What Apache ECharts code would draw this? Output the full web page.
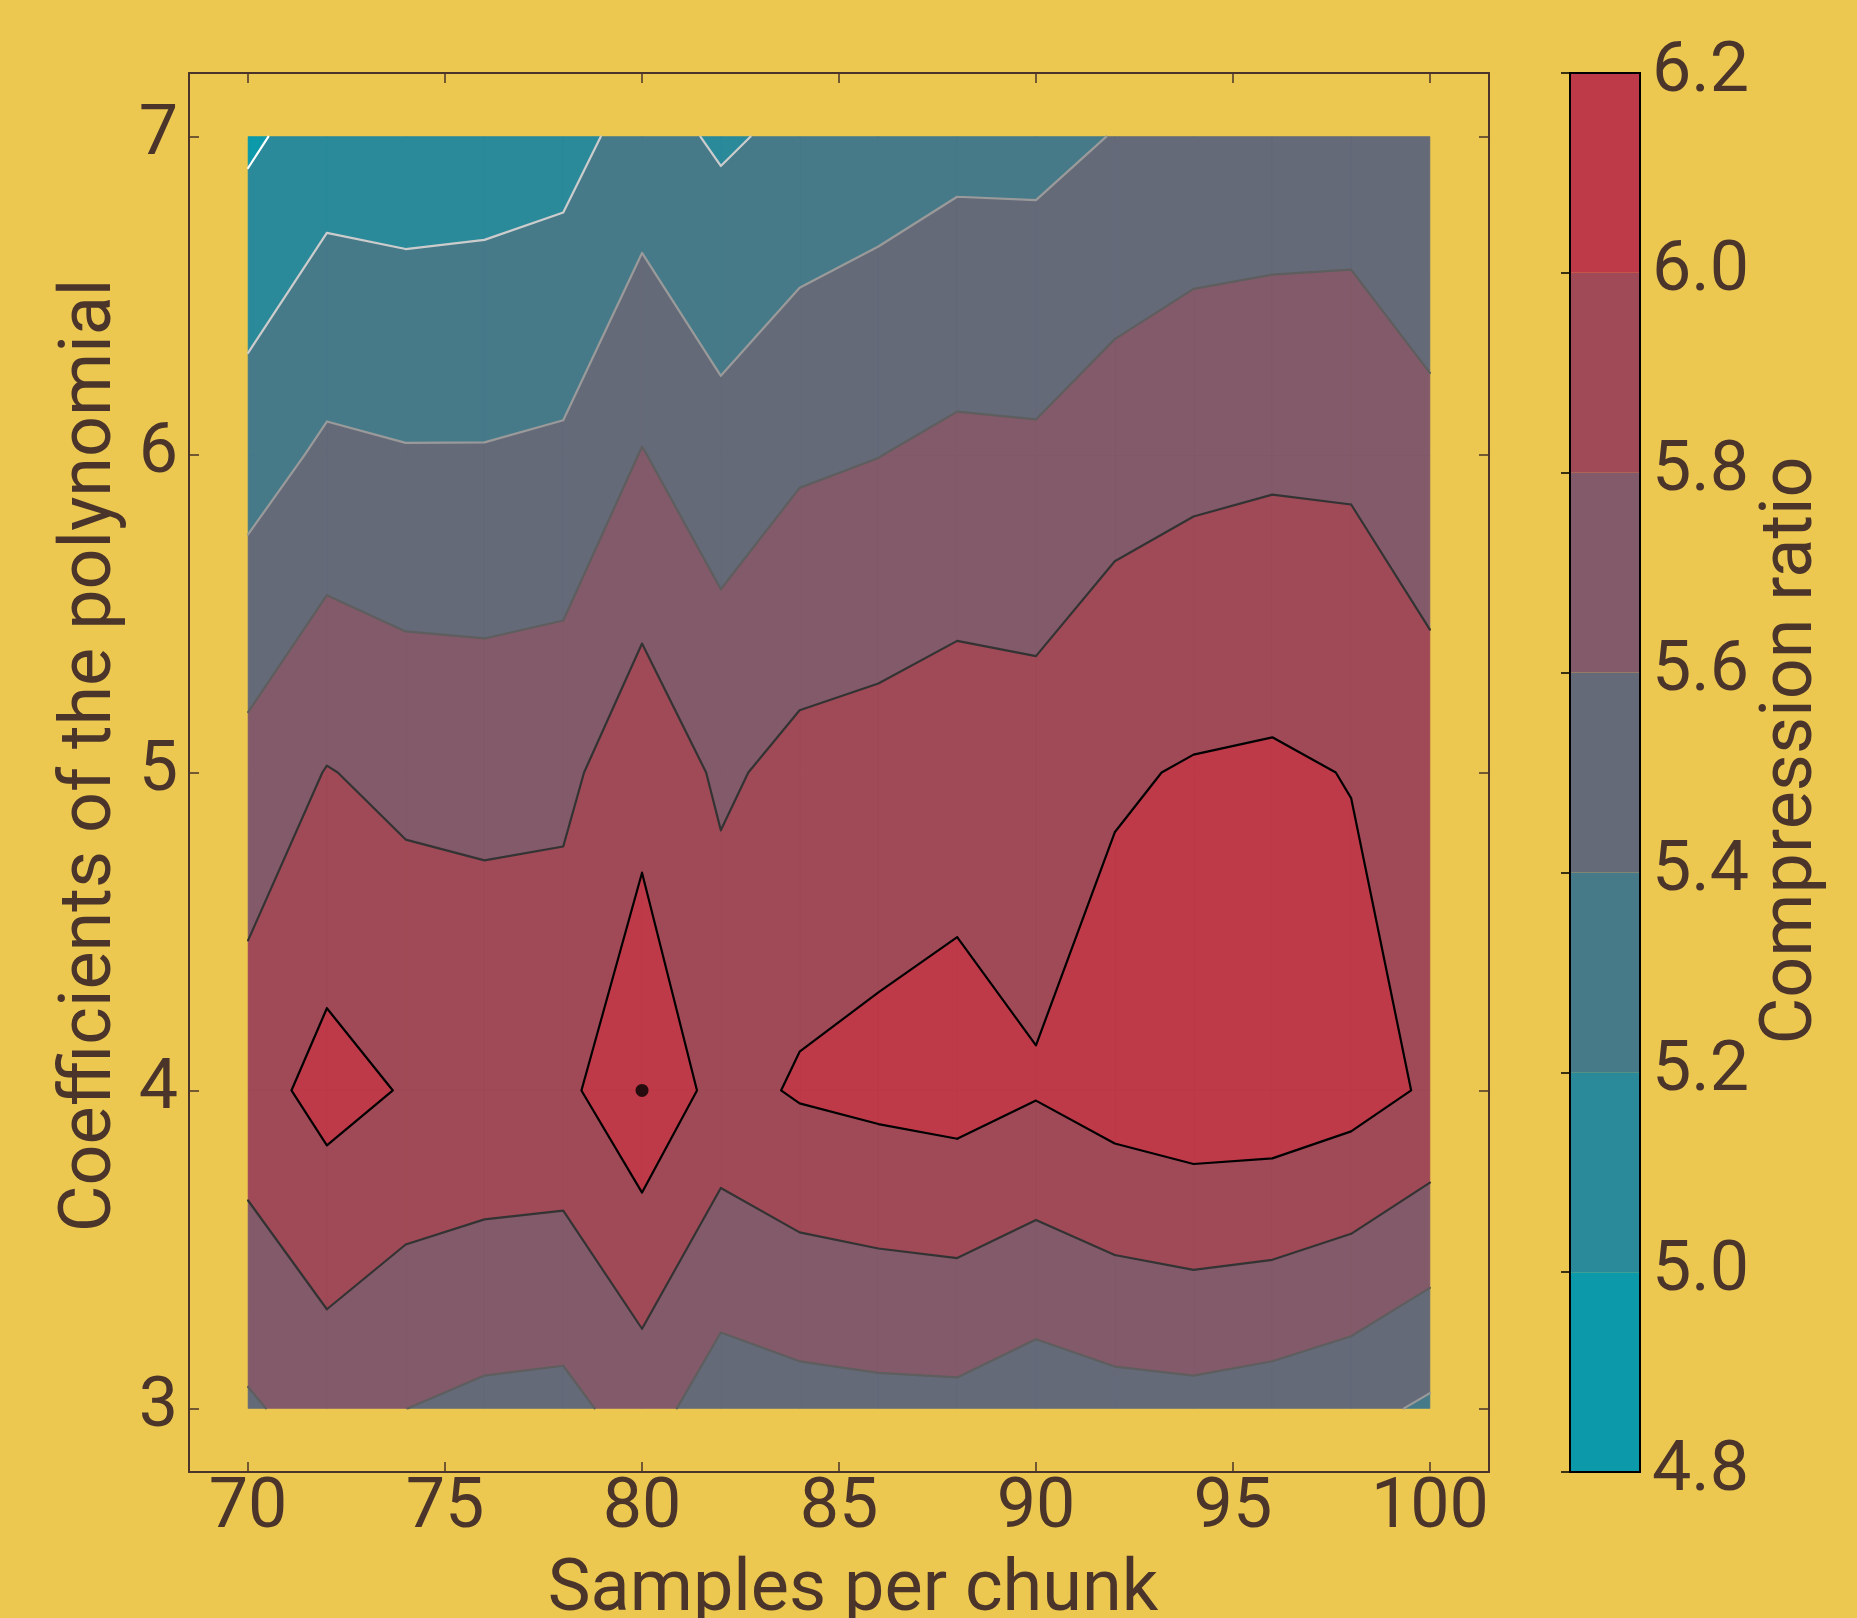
<!DOCTYPE html>
<html>
<head>
<meta charset="utf-8">
<script src="https://cdn.jsdelivr.net/npm/echarts@6/dist/echarts.min.js"></script>
<style>
html,body{margin:0;padding:0;background:#ecc850;overflow:hidden;}
#chart{width:1857px;height:1618px;}
</style>
</head>
<body>
<div id="chart"></div>
<script>
// ---- data ----
const samplesPerChunk = [70, 72, 74, 76, 78, 80, 82, 84, 86, 88, 90, 92, 94, 96, 98, 100];
const coefficients = [3, 4, 5, 6, 7];
const ratioAt3 = [5.577, 5.679, 5.601, 5.558, 5.545, 5.683, 5.495, 5.527, 5.543, 5.548, 5.484, 5.525, 5.538, 5.507, 5.459, 5.371];
const ratioAt4 = [5.918, 6.067, 5.987, 5.965, 5.955, 6.150, 5.935, 6.020, 6.054, 6.081, 6.017, 6.095, 6.139, 6.134, 6.080, 5.975];
const ratioAt5 = [5.668, 5.808, 5.750, 5.737, 5.753, 5.931, 5.770, 5.856, 5.879, 5.913, 5.897, 5.978, 6.015, 6.029, 5.993, 5.911];
const ratioAt6 = [5.310, 5.435, 5.412, 5.412, 5.433, 5.608, 5.475, 5.570, 5.597, 5.640, 5.632, 5.710, 5.748, 5.767, 5.764, 5.664];
const ratioAt7 = [4.966, 5.098, 5.084, 5.098, 5.127, 5.280, 5.172, 5.246, 5.296, 5.344, 5.342, 5.407, 5.464, 5.472, 5.482, 5.415];
const levels = [4.8, 5.0, 5.2, 5.4, 5.6, 5.8, 6.0, 6.2];
const bandColors = ['#0c9aaa', '#2a8a9a', '#477a89', '#656a79', '#835a69', '#a04a58', '#be3a48'];
const lineLevels = [5.0, 5.2, 5.4, 5.6, 5.8, 6.0];
const lineColors = ['#ffffff', '#cccccc', '#9a9a9a', '#5e5e5e', '#333333', '#000000'];
const bestPoint = [[80, 4]];
const xTickValues = [70, 75, 80, 85, 90, 95, 100];
const yTickValues = [3, 4, 5, 6, 7];
const colorbarTicks = [4.8, 5.0, 5.2, 5.4, 5.6, 5.8, 6.0, 6.2];

const ratioRows = [ratioAt3, ratioAt4, ratioAt5, ratioAt6, ratioAt7];
const TEXT = '#4b352a';
const FONT = 'Roboto';

function interp(a, b, level) {
  const t = (level - a.v) / (b.v - a.v);
  return { x: a.x + t * (b.x - a.x), y: a.y + t * (b.y - a.y), v: level, c: level };
}
function clip(poly, level, keepAbove) {
  const out = [];
  const n = poly.length;
  for (let i = 0; i < n; i++) {
    const a = poly[i], b = poly[(i + 1) % n];
    const inA = keepAbove ? a.v >= level : a.v <= level;
    const inB = keepAbove ? b.v >= level : b.v <= level;
    if (inA && inB) out.push(b);
    else if (inA && !inB) out.push(interp(a, b, level));
    else if (!inA && inB) { out.push(interp(a, b, level)); out.push(b); }
  }
  return out;
}

function renderContour(params, api) {
  const bandPaths = bandColors.map(() => '');
  const linePaths = lineLevels.map(() => '');
  const px = p => api.coord([p.x, p.y]);
  for (let j = 0; j < coefficients.length - 1; j++) {
    for (let i = 0; i < samplesPerChunk.length - 1; i++) {
      const quad = [
        { x: samplesPerChunk[i], y: coefficients[j], v: ratioRows[j][i] },
        { x: samplesPerChunk[i + 1], y: coefficients[j], v: ratioRows[j][i + 1] },
        { x: samplesPerChunk[i + 1], y: coefficients[j + 1], v: ratioRows[j + 1][i + 1] },
        { x: samplesPerChunk[i], y: coefficients[j + 1], v: ratioRows[j + 1][i] }
      ];
      for (let k = 0; k < bandColors.length; k++) {
        const poly = clip(clip(quad, levels[k], true), levels[k + 1], false);
        if (poly.length >= 3) {
          let s = '';
          poly.forEach((p, m) => { const c = px(p); s += (m === 0 ? 'M' : 'L') + c[0].toFixed(2) + ' ' + c[1].toFixed(2) + ' '; });
          bandPaths[k] += s + 'Z ';
        }
      }
      lineLevels.forEach((L, k) => {
        const p = clip(quad, L, true);
        const n = p.length;
        if (n < 3) return;
        for (let m = 0; m < n; m++) {
          const a = p[m], b = p[(m + 1) % n];
          if (a.c === L && b.c === L) {
            const ca = px(a), cb = px(b);
            linePaths[k] += 'M' + ca[0].toFixed(2) + ' ' + ca[1].toFixed(2) + ' L' + cb[0].toFixed(2) + ' ' + cb[1].toFixed(2) + ' ';
          }
        }
      });
    }
  }
  const children = [];
  bandPaths.forEach((d, k) => {
    if (d) children.push({ type: 'path', shape: { pathData: d }, style: { fill: bandColors[k], stroke: bandColors[k], lineWidth: 0.6 } });
  });
  linePaths.forEach((d, k) => {
    if (d) children.push({ type: 'path', shape: { pathData: d }, style: { fill: null, stroke: lineColors[k], lineWidth: 2.2, lineCap: 'round' } });
  });
  return { type: 'group', children };
}

function renderColorbar(params, api) {
  const lo = api.value(1), hi = api.value(2);
  const p0 = api.coord([0, hi]);
  const p1 = api.coord([1, lo]);
  return { type: 'rect', shape: { x: p0[0], y: p0[1], width: p1[0] - p0[0], height: p1[1] - p0[1] },
    style: { fill: bandColors[api.value(0)] } };
}

const colorbarData = bandColors.map((c, k) => [k, levels[k], levels[k + 1]]);
const axisLineStyle = { color: TEXT, width: 2 };

const chart = echarts.init(document.getElementById('chart'), null, { renderer: 'canvas' });
chart.setOption({
  backgroundColor: '#ecc850',
  animation: false,
  textStyle: { fontFamily: FONT },
  grid: [
    { left: 189, right: 368, top: 73, bottom: 146, containLabel: false, outerBoundsMode: 'none' },
    { left: 1570, width: 70, top: 73, bottom: 146, show: true, borderColor: '#000', borderWidth: 2,
      backgroundColor: 'transparent', z: 5, containLabel: false, outerBoundsMode: 'none' }
  ],
  xAxis: [
    { type: 'value', gridIndex: 0, position: 'bottom', min: 68.5, max: 101.5,
      axisLine: { onZero: false, lineStyle: axisLineStyle },
      axisTick: { inside: true, length: 10, customValues: xTickValues, lineStyle: { color: TEXT, width: 1.5 } },
      axisLabel: { customValues: xTickValues, color: TEXT, fontSize: 70, fontFamily: FONT, margin: 2, lineHeight: 70 },
      splitLine: { show: false },
      name: 'Samples per chunk', nameLocation: 'middle', nameGap: 84,
      nameTextStyle: { color: TEXT, fontSize: 72, fontFamily: FONT, lineHeight: 72, padding: [0, 0, 0, 28] } },
    { type: 'value', gridIndex: 0, position: 'top', min: 68.5, max: 101.5,
      axisLine: { onZero: false, lineStyle: axisLineStyle },
      axisTick: { inside: true, length: 10, customValues: xTickValues, lineStyle: { color: TEXT, width: 1.5 } },
      axisLabel: { show: false }, splitLine: { show: false } },
    { type: 'value', gridIndex: 1, min: 0, max: 1, show: false, splitLine: { show: false } }
  ],
  yAxis: [
    { type: 'value', gridIndex: 0, position: 'left', min: 2.8, max: 7.2,
      axisLine: { onZero: false, lineStyle: axisLineStyle },
      axisTick: { inside: true, length: 10, customValues: yTickValues, lineStyle: { color: TEXT, width: 1.5 } },
      axisLabel: { customValues: yTickValues, color: TEXT, fontSize: 70, fontFamily: FONT, margin: 11 },
      splitLine: { show: false },
      name: 'Coefficients of the polynomial', nameLocation: 'middle', nameGap: 54, nameRotate: 90,
      nameTextStyle: { color: TEXT, fontSize: 72, fontFamily: FONT, lineHeight: 72, padding: [0, 0, 0, 34] } },
    { type: 'value', gridIndex: 0, position: 'right', min: 2.8, max: 7.2,
      axisLine: { onZero: false, lineStyle: axisLineStyle },
      axisTick: { inside: true, length: 10, customValues: yTickValues, lineStyle: { color: TEXT, width: 1.5 } },
      axisLabel: { show: false }, splitLine: { show: false } },
    { type: 'value', gridIndex: 1, position: 'right', min: 4.8, max: 6.2,
      axisLine: { show: false },
      axisTick: { inside: true, length: 9, customValues: colorbarTicks, lineStyle: { color: '#000', width: 1.5 } },
      axisLabel: { customValues: colorbarTicks, color: TEXT, fontSize: 70, fontFamily: FONT, margin: 12,
        formatter: v => Number(v).toFixed(1) },
      splitLine: { show: false },
      name: 'Compression ratio', nameLocation: 'middle', nameGap: 117, nameRotate: 90,
      nameTextStyle: { color: TEXT, fontSize: 72, fontFamily: FONT, lineHeight: 72, padding: [0, 0, 0, 44] } }
  ],
  series: [
    { type: 'custom', xAxisIndex: 0, yAxisIndex: 0, data: [[85, 5]], renderItem: renderContour, clip: true, silent: true, z: 1 },
    { type: 'scatter', xAxisIndex: 0, yAxisIndex: 0, data: bestPoint, symbol: 'circle', symbolSize: 13,
      itemStyle: { color: '#000' }, silent: true, z: 3 },
    { type: 'custom', xAxisIndex: 2, yAxisIndex: 2, data: colorbarData, renderItem: renderColorbar, silent: true, z: 1,
      encode: { x: -1, y: [1, 2] } }
  ]
});
</script>
</body>
</html>
